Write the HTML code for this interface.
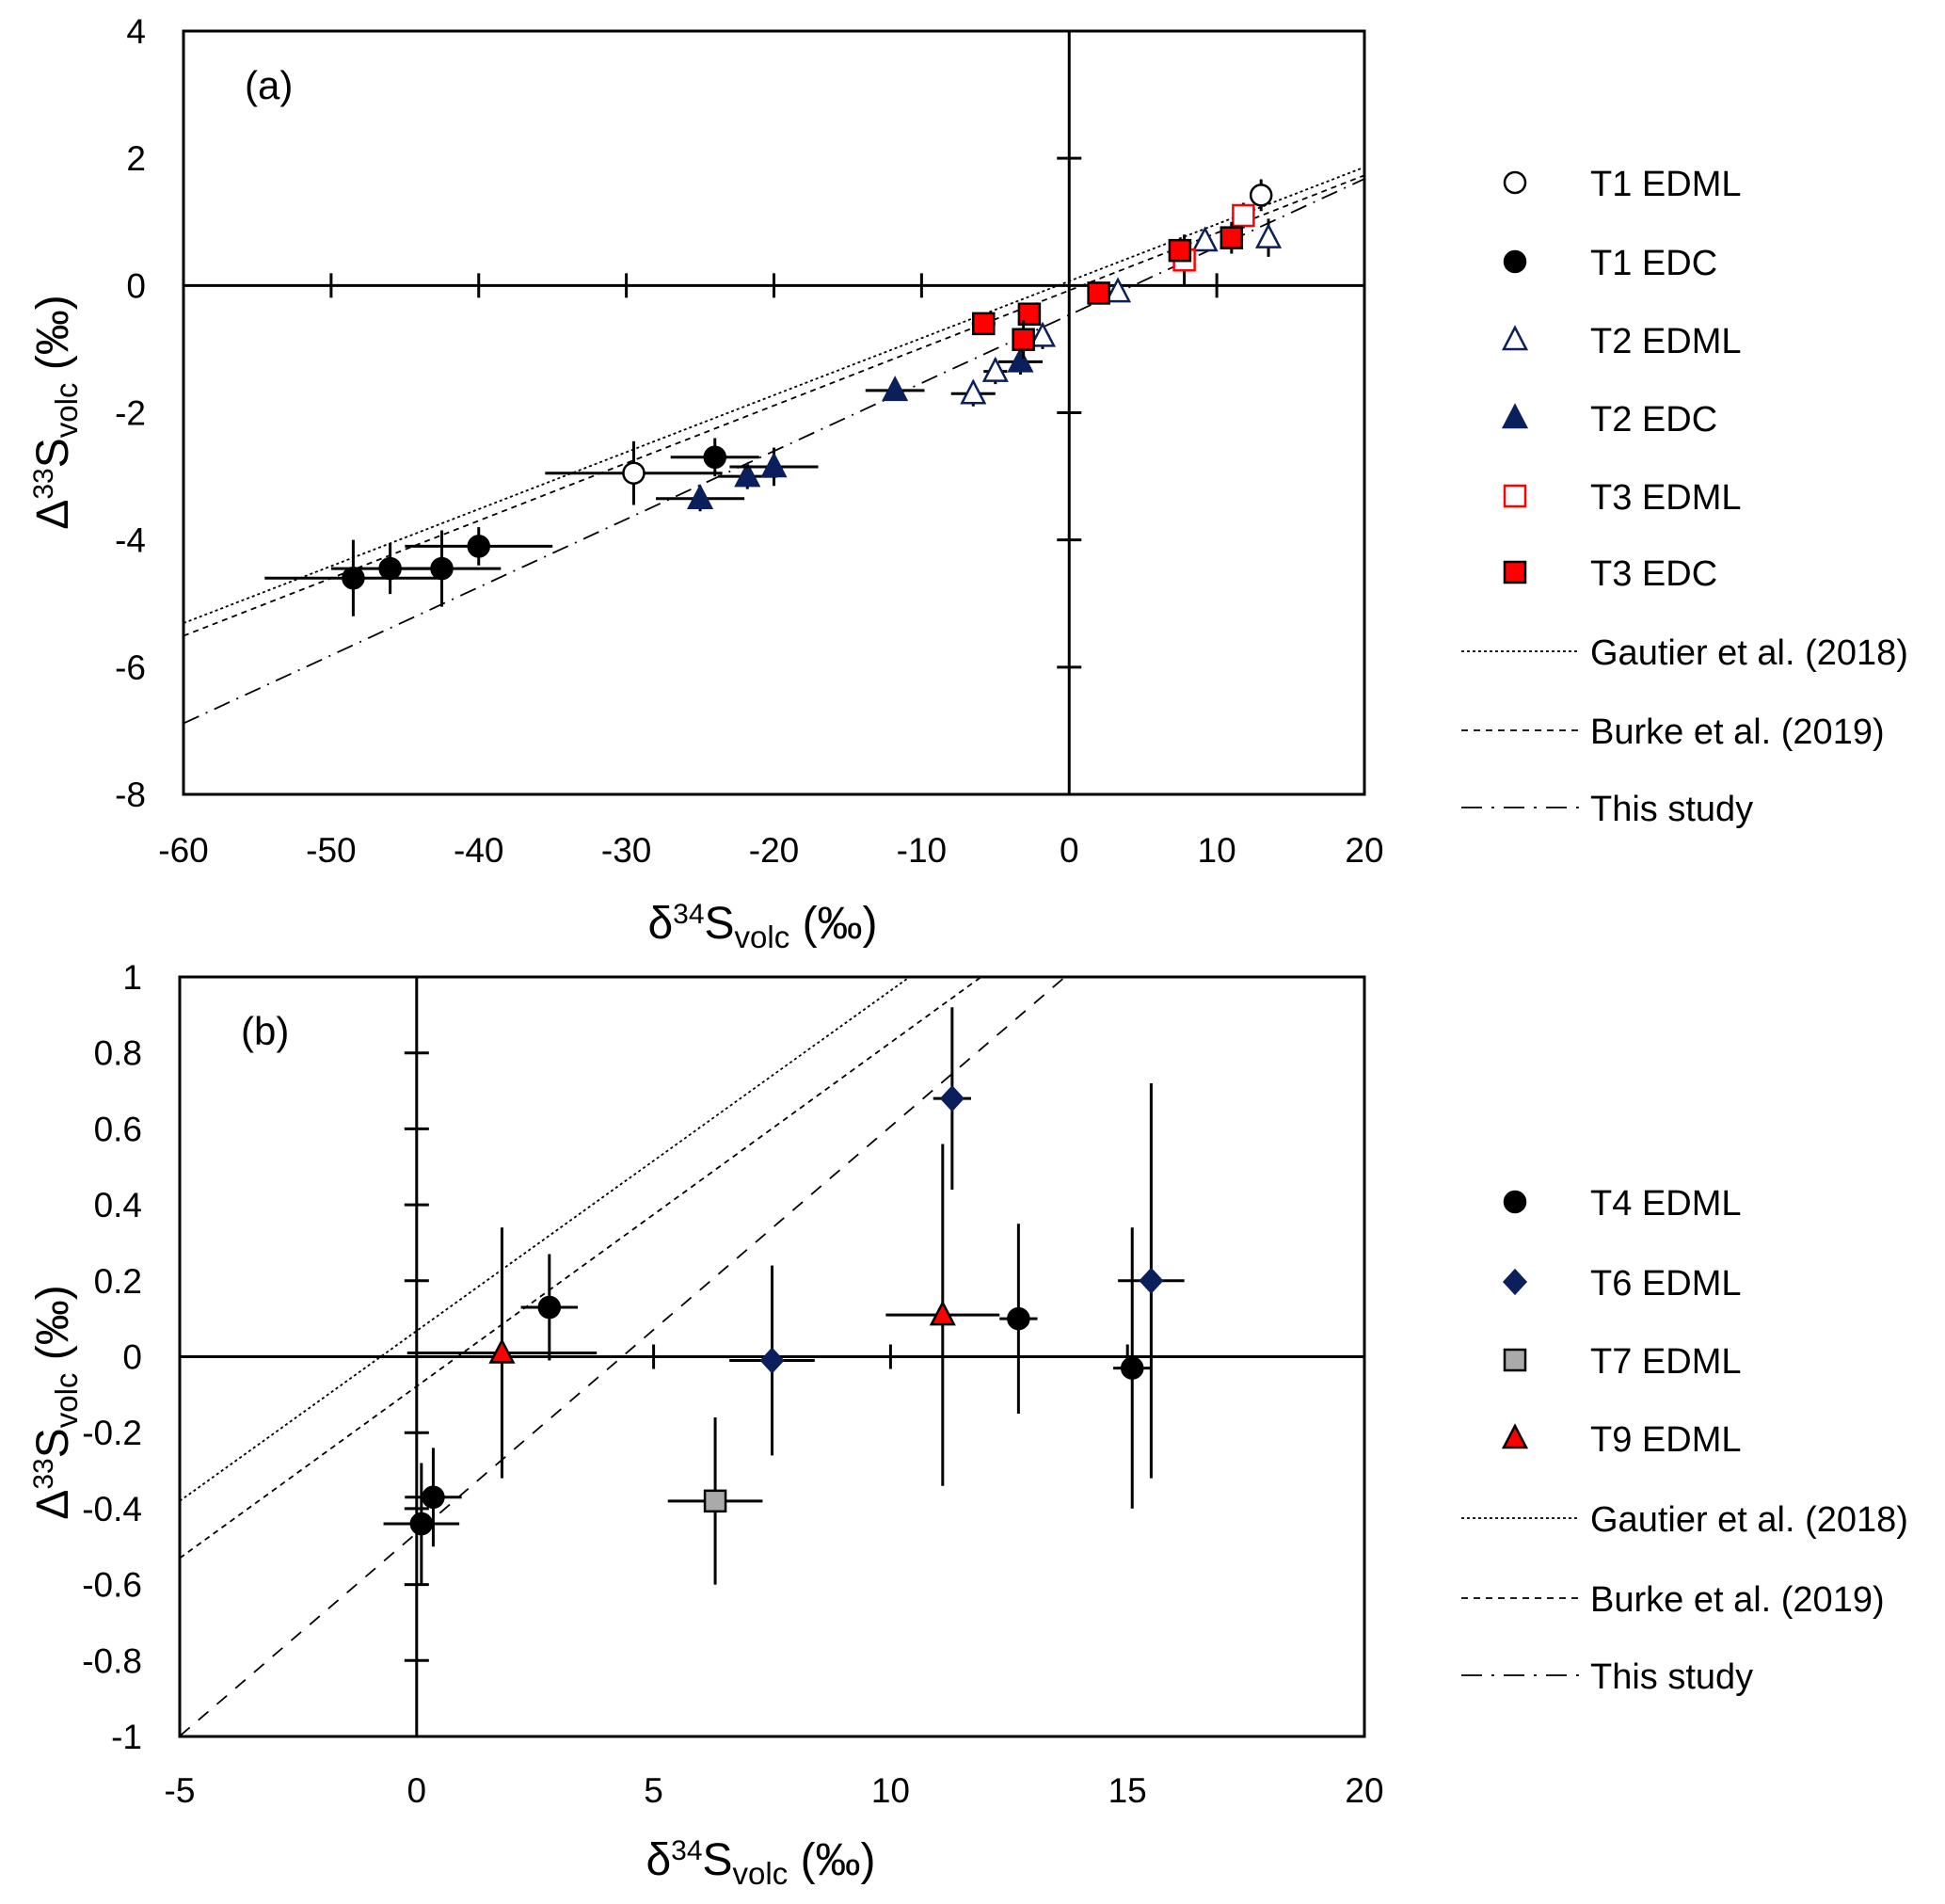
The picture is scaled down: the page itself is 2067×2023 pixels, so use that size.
<!DOCTYPE html>
<html><head><meta charset="utf-8"><style>
html,body{margin:0;padding:0;background:#fff}
svg{display:block}
text{font-family:"Liberation Sans Narrow","Liberation Sans",sans-serif;fill:#000}
.leg{font-family:"Liberation Sans",sans-serif;font-size:38px}
</style></head><body>
<svg id="fig" width="2067" height="2023" viewBox="0 0 2067 2023" xmlns="http://www.w3.org/2000/svg">
</svg>
<script>
// Panel (a) data
const aT1EDML = [[-29.5,-2.95,6,0.5],[13,1.42,0.4,0.25]];
const aT1EDC = [[-48.5,-4.6,6,0.6],[-46,-4.45,4,0.4],[-42.5,-4.45,4,0.6],[-40,-4.1,5,0.3],[-24,-2.7,3,0.3]];
const aT2EDML = [[-6.5,-1.7,1.5,0.2],[-5,-1.35,0.8,0.2],[-1.8,-0.8,0.5,0.2],[3.3,-0.1,0.5,0.15],[9.2,0.7,0.5,0.15],[13.5,0.75,0.4,0.3]];
const aT2EDC = [[-25,-3.35,3,0.2],[-21.8,-3,2,0.2],[-20,-2.85,3,0.3],[-11.8,-1.65,2,0.1],[-3.3,-1.2,1.5,0.2]];
const aT3EDML = [[7.8,0.4,0.4,0.4],[11.8,1.1,0.4,0.2]];
const aT3EDC = [[-5.8,-0.6,0.8,0.1],[-2.7,-0.45,0.5,0.15],[-3.1,-0.85,0.6,0.3],[2,-0.12,0.5,0.15],[7.5,0.55,0.5,0.15],[11,0.75,0.5,0.25]];
// Panel (b) data
const bT4 = [[0.1,-0.44,0.8,0.16],[0.35,-0.37,0.6,0.13],[2.8,0.13,0.6,0.14],[12.7,0.1,0.4,0.25],[15.1,-0.03,0.4,0.37]];
const bT6 = [[11.3,0.68,0.4,0.24],[7.5,-0.01,0.9,0.25],[15.5,0.2,0.7,0.52]];
const bT7 = [[6.3,-0.38,1,0.22]];
const bT9 = [[1.8,0.01,2,0.33],[11.1,0.11,1.2,0.45]];
// Regression lines [slope, intercept]
const lineGautier = [0.0896,0.068];
const lineBurke = [0.0905,-0.078];
const lineThis = [0.107,-0.464];
const aXTicks = [-60,-50,-40,-30,-20,-10,0,10,20];
const aYTicks = [4,2,0,-2,-4,-6,-8];
const bXTicks = [-5,0,5,10,15,20];
const bYTicks = [1,0.8,0.6,0.4,0.2,0,-0.2,-0.4,-0.6,-0.8,-1];

const NS="http://www.w3.org/2000/svg";
const svg=document.getElementById('fig');
function el(tag,attrs,parent){const e=document.createElementNS(NS,tag);for(const k in attrs)e.setAttribute(k,attrs[k]);(parent||svg).appendChild(e);return e;}

function panel(P){
  const g=el('g',{});
  
  
  const sx=v=>P.L+(v-P.xmin)/(P.xmax-P.xmin)*(P.R-P.L);
  const sy=v=>P.T+(P.ymax-v)/(P.ymax-P.ymin)*(P.B-P.T);
  const clip='clip'+P.name;
  const cp=el('clipPath',{id:clip},g);el('rect',{x:P.L,y:P.T,width:P.R-P.L,height:P.B-P.T},cp);
  const fr=el('rect',{x:P.L,y:P.T,width:P.R-P.L,height:P.B-P.T,fill:'none',stroke:'#000','stroke-width':3},g);
  
  
  const zx=el('line',{x1:P.L,x2:P.R,y1:sy(0),y2:sy(0),stroke:'#000','stroke-width':3},g);
  
  
  const zy=el('line',{x1:sx(0),x2:sx(0),y1:P.T,y2:P.B,stroke:'#000','stroke-width':3},g);
  
  
  P.xt.forEach(v=>{
    if(v!==0&&v>P.xmin&&v<P.xmax){const t=el('line',{x1:sx(v),x2:sx(v),y1:sy(0)-13,y2:sy(0)+13,stroke:'#000','stroke-width':3},g);
    
    }
    const tx=el('text',{x:sx(v),y:P.B+P.xLabOff,'text-anchor':'middle','font-size':37},g);tx.textContent=String(v);
    
    
  });
  P.yt.forEach(v=>{
    if(v!==0&&v>P.ymin&&v<P.ymax){const t=el('line',{x1:sx(0)-13,x2:sx(0)+13,y1:sy(v),y2:sy(v),stroke:'#000','stroke-width':3},g);
    
    }
    const tx=el('text',{x:P.L-40,y:sy(v)+13,'text-anchor':'end','font-size':37},g);tx.textContent=String(v);
    
    
  });
  const lg=el('g',{'clip-path':'url(#'+clip+')'},g);
  [[lineGautier,'3,3','gautier-line'],[lineBurke,'6,5','burke-line'],[lineThis,P.thisDash,'this-study-line']].forEach(([ln,d,nm])=>{
    const l=el('line',{x1:sx(P.xmin),y1:sy(ln[0]*P.xmin+ln[1]),x2:sx(P.xmax),y2:sy(ln[0]*P.xmax+ln[1]),stroke:'#000','stroke-width':1.8,'stroke-dasharray':d},lg);
    
    
  });
  P.series.forEach(s=>{
    s.data.forEach(p=>{
      const x=sx(p[0]),y=sy(p[1]);
      const eb=el('path',{d:`M${sx(p[0]-p[2])},${y}H${sx(p[0]+p[2])}M${x},${sy(p[1]-p[3])}V${sy(p[1]+p[3])}`,stroke:'#000','stroke-width':3,fill:'none'},g);
      
      
      const m=marker(s.shape,x,y,s.fill,s.stroke,g);
      
      
    });
  });
  const pl=el('text',{x:P.L+65,y:P.T+72,'font-size':42},g);pl.textContent=P.label;
  
  
  const xt=el('text',{x:(P.L+P.R)/2-12,y:P.xTitleY,'text-anchor':'middle','font-size':48},g);
  xt.innerHTML='δ<tspan dy="-16" font-size="30">34</tspan><tspan dy="16">S</tspan><tspan dy="10" font-size="33">volc</tspan><tspan dy="-10"> (‰)</tspan>';
  
  
  const yt=el('text',{x:0,y:0,'text-anchor':'middle','font-size':48,transform:`translate(${P.yTitleX},${P.yTitleY}) rotate(-90)`},g);
  yt.innerHTML='Δ<tspan dy="-16" font-size="30">33</tspan><tspan dy="16">S</tspan><tspan dy="10" font-size="33">volc</tspan><tspan dy="-10"> (‰)</tspan>';
  
  
  P.series.forEach((s,i)=>{
    const ly=P.legY[i];
    const m=marker(s.shape,1610,ly,s.fill,s.stroke,svg);
    
    
    const t=el('text',{x:1690,y:ly+14,class:'leg'});t.textContent=s.label;
    
    
  });
  [['Gautier et al. (2018)','3,3'],['Burke et al. (2019)','7,6'],['This study','22,10,3,10']].forEach((e,i)=>{
    const ly=P.legLineY[i];
    const l=el('line',{x1:1553,x2:1678,y1:ly,y2:ly,stroke:'#000','stroke-width':1.8,'stroke-dasharray':e[1]});
    
    
    const t=el('text',{x:1690,y:ly+14,class:'leg'});t.textContent=e[0];
    
    
  });
}
function marker(shape,x,y,fill,stroke,parent){
  if(shape==='circle')return el('circle',{cx:x,cy:y,r:11,fill,stroke,'stroke-width':2.5},parent);
  if(shape==='tri')return el('path',{d:`M${x},${y-13}L${x+12},${y+10}L${x-12},${y+10}Z`,fill,stroke,'stroke-width':2.5},parent);
  if(shape==='sq')return el('rect',{x:x-11,y:y-11,width:22,height:22,fill,stroke,'stroke-width':2.5},parent);
  if(shape==='dia')return el('path',{d:`M${x},${y-13}L${x+12},${y}L${x},${y+13}L${x-12},${y}Z`,fill,stroke,'stroke-width':1.5},parent);
}
panel({name:'panel-a',label:'(a)',L:195,R:1450,T:33,B:844,xmin:-60,xmax:20,ymin:-8,ymax:4,xt:aXTicks,yt:aYTicks,
  xLabOff:72,xTitleY:997,yTitleX:72,yTitleY:438,thisDash:'18,8,2,8',
  legY:[194,278,361,444,527,608],legLineY:[692,776,858],
  series:[
   {nm:'t1-edml',label:'T1 EDML',shape:'circle',fill:'#fff',stroke:'#000',data:aT1EDML},
   {nm:'t1-edc',label:'T1 EDC',shape:'circle',fill:'#000',stroke:'#000',data:aT1EDC},
   {nm:'t2-edml',label:'T2 EDML',shape:'tri',fill:'#fff',stroke:'#0a1f5c',data:aT2EDML},
   {nm:'t2-edc',label:'T2 EDC',shape:'tri',fill:'#0a1f5c',stroke:'#0a1f5c',data:aT2EDC},
   {nm:'t3-edml',label:'T3 EDML',shape:'sq',fill:'#fff',stroke:'#f00',data:aT3EDML},
   {nm:'t3-edc',label:'T3 EDC',shape:'sq',fill:'#f00',stroke:'#000',data:aT3EDC}]});
panel({name:'panel-b',label:'(b)',L:191,R:1450,T:1038,B:1845,xmin:-5,xmax:20,ymin:-1,ymax:1,xt:bXTicks,yt:bYTicks,
  xLabOff:70,xTitleY:1992,yTitleX:72,yTitleY:1490,thisDash:'14,12',
  legY:[1277,1362,1445,1528],legLineY:[1613,1698,1780],
  series:[
   {nm:'t4-edml',label:'T4 EDML',shape:'circle',fill:'#000',stroke:'#000',data:bT4},
   {nm:'t6-edml',label:'T6 EDML',shape:'dia',fill:'#0a1f5c',stroke:'#0a1f5c',data:bT6},
   {nm:'t7-edml',label:'T7 EDML',shape:'sq',fill:'#aaa',stroke:'#000',data:bT7},
   {nm:'t9-edml',label:'T9 EDML',shape:'tri',fill:'#f00',stroke:'#000',data:bT9}]});
</script>
</body></html>
